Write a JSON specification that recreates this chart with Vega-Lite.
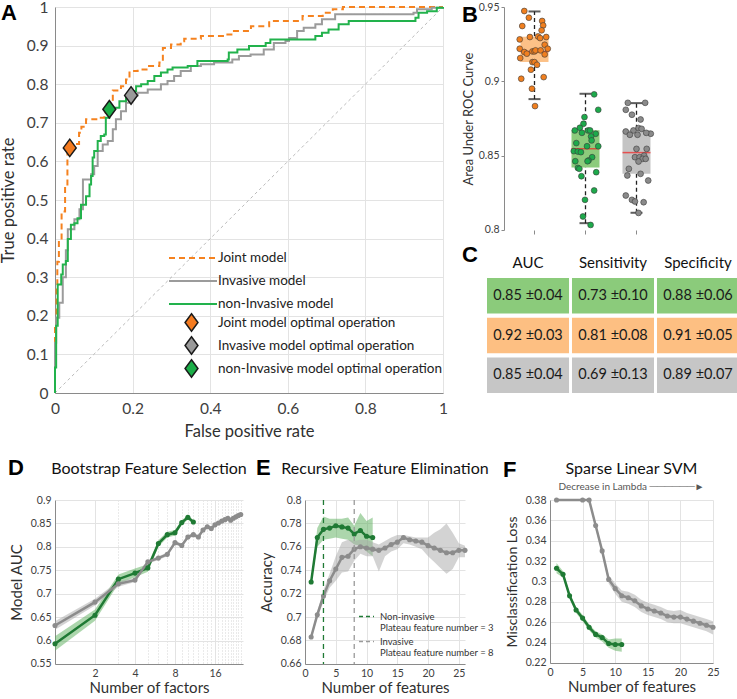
{
  "$schema": "https://vega.github.io/schema/vega-lite/v6.json",
  "padding": 0,
  "background": "white",
  "config": {
    "font": "Lato",
    "view": {"stroke": null},
    "axis": {"labelColor": "#404040", "titleColor": "#303030", "titleFontWeight": "normal", "domainColor": "#8a8a8a", "tickColor": "#8a8a8a", "gridColor": "#e3e3e3", "labelFont": "Lato", "titleFont": "Lato", "labelOverlap": false, "labelFlush": false},
    "legend": {"labelFont": "Lato", "labelColor": "#222", "padding": 0, "labelLimit": 0},
    "title": {"font": "Lato", "fontWeight": "normal", "color": "#111"}
  },
  "datasets": {
    "diag": [{"x": 0, "y": 0}, {"x": 1, "y": 1}],
    "roc": [
      {"m": "Joint model", "x": 0, "y": 0}, {"m": "Joint model", "x": 0, "y": 0.18}, {"m": "Joint model", "x": 0.004, "y": 0.28}, {"m": "Joint model", "x": 0.006, "y": 0.34}, {"m": "Joint model", "x": 0.01, "y": 0.4}, {"m": "Joint model", "x": 0.017, "y": 0.47}, {"m": "Joint model", "x": 0.026, "y": 0.535}, {"m": "Joint model", "x": 0.032, "y": 0.636}, {"m": "Joint model", "x": 0.05, "y": 0.645}, {"m": "Joint model", "x": 0.062, "y": 0.674}, {"m": "Joint model", "x": 0.068, "y": 0.69}, {"m": "Joint model", "x": 0.08, "y": 0.709}, {"m": "Joint model", "x": 0.114, "y": 0.713}, {"m": "Joint model", "x": 0.127, "y": 0.726}, {"m": "Joint model", "x": 0.14, "y": 0.756}, {"m": "Joint model", "x": 0.149, "y": 0.784}, {"m": "Joint model", "x": 0.17, "y": 0.795}, {"m": "Joint model", "x": 0.183, "y": 0.812}, {"m": "Joint model", "x": 0.192, "y": 0.834}, {"m": "Joint model", "x": 0.213, "y": 0.838}, {"m": "Joint model", "x": 0.239, "y": 0.847}, {"m": "Joint model", "x": 0.269, "y": 0.856}, {"m": "Joint model", "x": 0.278, "y": 0.894}, {"m": "Joint model", "x": 0.299, "y": 0.903}, {"m": "Joint model", "x": 0.324, "y": 0.911}, {"m": "Joint model", "x": 0.333, "y": 0.918}, {"m": "Joint model", "x": 0.376, "y": 0.925}, {"m": "Joint model", "x": 0.436, "y": 0.929}, {"m": "Joint model", "x": 0.458, "y": 0.938}, {"m": "Joint model", "x": 0.505, "y": 0.95}, {"m": "Joint model", "x": 0.552, "y": 0.964}, {"m": "Joint model", "x": 0.638, "y": 0.977}, {"m": "Joint model", "x": 0.69, "y": 0.985}, {"m": "Joint model", "x": 0.716, "y": 0.994}, {"m": "Joint model", "x": 0.742, "y": 1}, {"m": "Joint model", "x": 1, "y": 1},
      {"m": "Invasive model", "x": 0, "y": 0}, {"m": "Invasive model", "x": 0, "y": 0.13}, {"m": "Invasive model", "x": 0.003, "y": 0.195}, {"m": "Invasive model", "x": 0.011, "y": 0.234}, {"m": "Invasive model", "x": 0.02, "y": 0.3}, {"m": "Invasive model", "x": 0.028, "y": 0.37}, {"m": "Invasive model", "x": 0.033, "y": 0.424}, {"m": "Invasive model", "x": 0.05, "y": 0.45}, {"m": "Invasive model", "x": 0.063, "y": 0.476}, {"m": "Invasive model", "x": 0.072, "y": 0.553}, {"m": "Invasive model", "x": 0.093, "y": 0.567}, {"m": "Invasive model", "x": 0.101, "y": 0.588}, {"m": "Invasive model", "x": 0.11, "y": 0.627}, {"m": "Invasive model", "x": 0.123, "y": 0.644}, {"m": "Invasive model", "x": 0.136, "y": 0.653}, {"m": "Invasive model", "x": 0.149, "y": 0.683}, {"m": "Invasive model", "x": 0.157, "y": 0.709}, {"m": "Invasive model", "x": 0.17, "y": 0.73}, {"m": "Invasive model", "x": 0.183, "y": 0.752}, {"m": "Invasive model", "x": 0.192, "y": 0.765}, {"m": "Invasive model", "x": 0.196, "y": 0.771}, {"m": "Invasive model", "x": 0.213, "y": 0.778}, {"m": "Invasive model", "x": 0.239, "y": 0.786}, {"m": "Invasive model", "x": 0.273, "y": 0.8}, {"m": "Invasive model", "x": 0.29, "y": 0.808}, {"m": "Invasive model", "x": 0.307, "y": 0.821}, {"m": "Invasive model", "x": 0.324, "y": 0.834}, {"m": "Invasive model", "x": 0.35, "y": 0.847}, {"m": "Invasive model", "x": 0.376, "y": 0.852}, {"m": "Invasive model", "x": 0.41, "y": 0.856}, {"m": "Invasive model", "x": 0.457, "y": 0.864}, {"m": "Invasive model", "x": 0.474, "y": 0.873}, {"m": "Invasive model", "x": 0.504, "y": 0.877}, {"m": "Invasive model", "x": 0.538, "y": 0.89}, {"m": "Invasive model", "x": 0.564, "y": 0.907}, {"m": "Invasive model", "x": 0.594, "y": 0.912}, {"m": "Invasive model", "x": 0.603, "y": 0.92}, {"m": "Invasive model", "x": 0.624, "y": 0.938}, {"m": "Invasive model", "x": 0.641, "y": 0.946}, {"m": "Invasive model", "x": 0.671, "y": 0.955}, {"m": "Invasive model", "x": 0.688, "y": 0.968}, {"m": "Invasive model", "x": 0.722, "y": 0.981}, {"m": "Invasive model", "x": 0.924, "y": 0.985}, {"m": "Invasive model", "x": 0.933, "y": 0.994}, {"m": "Invasive model", "x": 0.971, "y": 0.998}, {"m": "Invasive model", "x": 1, "y": 1},
      {"m": "non-Invasive model", "x": 0, "y": 0}, {"m": "non-Invasive model", "x": 0, "y": 0.066}, {"m": "non-Invasive model", "x": 0.003, "y": 0.174}, {"m": "non-Invasive model", "x": 0.007, "y": 0.281}, {"m": "non-Invasive model", "x": 0.016, "y": 0.307}, {"m": "non-Invasive model", "x": 0.02, "y": 0.333}, {"m": "non-Invasive model", "x": 0.028, "y": 0.342}, {"m": "non-Invasive model", "x": 0.033, "y": 0.399}, {"m": "non-Invasive model", "x": 0.041, "y": 0.436}, {"m": "non-Invasive model", "x": 0.05, "y": 0.44}, {"m": "non-Invasive model", "x": 0.058, "y": 0.453}, {"m": "non-Invasive model", "x": 0.067, "y": 0.488}, {"m": "non-Invasive model", "x": 0.08, "y": 0.51}, {"m": "non-Invasive model", "x": 0.089, "y": 0.54}, {"m": "non-Invasive model", "x": 0.093, "y": 0.562}, {"m": "non-Invasive model", "x": 0.097, "y": 0.61}, {"m": "non-Invasive model", "x": 0.101, "y": 0.627}, {"m": "non-Invasive model", "x": 0.11, "y": 0.653}, {"m": "non-Invasive model", "x": 0.118, "y": 0.666}, {"m": "non-Invasive model", "x": 0.127, "y": 0.67}, {"m": "non-Invasive model", "x": 0.131, "y": 0.713}, {"m": "non-Invasive model", "x": 0.14, "y": 0.735}, {"m": "non-Invasive model", "x": 0.153, "y": 0.739}, {"m": "non-Invasive model", "x": 0.166, "y": 0.756}, {"m": "non-Invasive model", "x": 0.183, "y": 0.769}, {"m": "non-Invasive model", "x": 0.192, "y": 0.782}, {"m": "non-Invasive model", "x": 0.209, "y": 0.795}, {"m": "non-Invasive model", "x": 0.222, "y": 0.8}, {"m": "non-Invasive model", "x": 0.239, "y": 0.808}, {"m": "non-Invasive model", "x": 0.256, "y": 0.821}, {"m": "non-Invasive model", "x": 0.273, "y": 0.83}, {"m": "non-Invasive model", "x": 0.29, "y": 0.838}, {"m": "non-Invasive model", "x": 0.303, "y": 0.843}, {"m": "non-Invasive model", "x": 0.342, "y": 0.847}, {"m": "non-Invasive model", "x": 0.367, "y": 0.86}, {"m": "non-Invasive model", "x": 0.445, "y": 0.864}, {"m": "non-Invasive model", "x": 0.448, "y": 0.882}, {"m": "non-Invasive model", "x": 0.47, "y": 0.89}, {"m": "non-Invasive model", "x": 0.5, "y": 0.899}, {"m": "non-Invasive model", "x": 0.543, "y": 0.907}, {"m": "non-Invasive model", "x": 0.555, "y": 0.916}, {"m": "non-Invasive model", "x": 0.671, "y": 0.925}, {"m": "non-Invasive model", "x": 0.688, "y": 0.933}, {"m": "non-Invasive model", "x": 0.705, "y": 0.942}, {"m": "non-Invasive model", "x": 0.731, "y": 0.955}, {"m": "non-Invasive model", "x": 0.757, "y": 0.964}, {"m": "non-Invasive model", "x": 0.929, "y": 0.972}, {"m": "non-Invasive model", "x": 0.937, "y": 0.985}, {"m": "non-Invasive model", "x": 0.959, "y": 0.989}, {"m": "non-Invasive model", "x": 0.984, "y": 0.998}, {"m": "non-Invasive model", "x": 1, "y": 1}
    ],
    "ops": [
      {"op": "Joint model optimal operation", "x": 0.038, "y": 0.635},
      {"op": "Invasive model optimal operation", "x": 0.196, "y": 0.771},
      {"op": "non-Invasive model optimal operation", "x": 0.14, "y": 0.735}
    ],
    "box": [
      {"g": "Joint", "pos": 1, "lo": 0.888, "q1": 0.913, "med": 0.92, "q3": 0.93, "hi": 0.947},
      {"g": "Non-invasive", "pos": 2, "lo": 0.8045, "q1": 0.842, "med": 0.8546, "q3": 0.867, "hi": 0.8916},
      {"g": "Invasive", "pos": 3, "lo": 0.8115, "q1": 0.8377, "med": 0.852, "q3": 0.867, "hi": 0.8853}
    ],
    "aucpts": [
      {"g": "Joint", "x": 0.80, "v": 0.9473}, {"g": "Joint", "x": 0.89, "v": 0.9428}, {"g": "Joint", "x": 0.76, "v": 0.9372}, {"g": "Joint", "x": 1.15, "v": 0.9406}, {"g": "Joint", "x": 1.17, "v": 0.9376}, {"g": "Joint", "x": 1.14, "v": 0.9343}, {"g": "Joint", "x": 0.71, "v": 0.9282}, {"g": "Joint", "x": 0.91, "v": 0.9298}, {"g": "Joint", "x": 1.07, "v": 0.9302}, {"g": "Joint", "x": 1.11, "v": 0.9291}, {"g": "Joint", "x": 1.23, "v": 0.9298}, {"g": "Joint", "x": 1.20, "v": 0.9246}, {"g": "Joint", "x": 1.26, "v": 0.9219}, {"g": "Joint", "x": 0.71, "v": 0.9219}, {"g": "Joint", "x": 0.80, "v": 0.9197}, {"g": "Joint", "x": 0.85, "v": 0.9186}, {"g": "Joint", "x": 0.96, "v": 0.9201}, {"g": "Joint", "x": 1.00, "v": 0.9201}, {"g": "Joint", "x": 1.02, "v": 0.9208}, {"g": "Joint", "x": 1.12, "v": 0.9208}, {"g": "Joint", "x": 1.20, "v": 0.9181}, {"g": "Joint", "x": 0.72, "v": 0.9156}, {"g": "Joint", "x": 0.96, "v": 0.9129}, {"g": "Joint", "x": 1.00, "v": 0.9129}, {"g": "Joint", "x": 1.05, "v": 0.9111}, {"g": "Joint", "x": 0.93, "v": 0.9078}, {"g": "Joint", "x": 1.18, "v": 0.9028}, {"g": "Joint", "x": 0.74, "v": 0.9017}, {"g": "Joint", "x": 0.95, "v": 0.895}, {"g": "Joint", "x": 1.01, "v": 0.8833},
      {"g": "Non-invasive", "x": 2.17, "v": 0.8912}, {"g": "Non-invasive", "x": 2.25, "v": 0.8808}, {"g": "Non-invasive", "x": 1.98, "v": 0.8759}, {"g": "Non-invasive", "x": 1.96, "v": 0.8714}, {"g": "Non-invasive", "x": 1.79, "v": 0.8669}, {"g": "Non-invasive", "x": 1.89, "v": 0.8687}, {"g": "Non-invasive", "x": 2.05, "v": 0.8669}, {"g": "Non-invasive", "x": 2.09, "v": 0.8669}, {"g": "Non-invasive", "x": 1.93, "v": 0.8653}, {"g": "Non-invasive", "x": 2.20, "v": 0.8647}, {"g": "Non-invasive", "x": 2.11, "v": 0.8629}, {"g": "Non-invasive", "x": 2.12, "v": 0.8602}, {"g": "Non-invasive", "x": 1.82, "v": 0.8584}, {"g": "Non-invasive", "x": 2.03, "v": 0.8563}, {"g": "Non-invasive", "x": 2.25, "v": 0.8563}, {"g": "Non-invasive", "x": 1.77, "v": 0.853}, {"g": "Non-invasive", "x": 1.85, "v": 0.8527}, {"g": "Non-invasive", "x": 1.91, "v": 0.8523}, {"g": "Non-invasive", "x": 2.13, "v": 0.8489}, {"g": "Non-invasive", "x": 2.06, "v": 0.8467}, {"g": "Non-invasive", "x": 2.04, "v": 0.8462}, {"g": "Non-invasive", "x": 1.80, "v": 0.8462}, {"g": "Non-invasive", "x": 1.85, "v": 0.8417}, {"g": "Non-invasive", "x": 1.88, "v": 0.8411}, {"g": "Non-invasive", "x": 1.92, "v": 0.8361}, {"g": "Non-invasive", "x": 2.21, "v": 0.8388}, {"g": "Non-invasive", "x": 2.17, "v": 0.8265}, {"g": "Non-invasive", "x": 1.99, "v": 0.8202}, {"g": "Non-invasive", "x": 1.95, "v": 0.809}, {"g": "Non-invasive", "x": 2.10, "v": 0.8033},
      {"g": "Invasive", "x": 2.83, "v": 0.8855}, {"g": "Invasive", "x": 3.17, "v": 0.8855}, {"g": "Invasive", "x": 2.79, "v": 0.8808}, {"g": "Invasive", "x": 2.91, "v": 0.8775}, {"g": "Invasive", "x": 3.08, "v": 0.8743}, {"g": "Invasive", "x": 2.79, "v": 0.8662}, {"g": "Invasive", "x": 2.94, "v": 0.8669}, {"g": "Invasive", "x": 3.04, "v": 0.8685}, {"g": "Invasive", "x": 3.10, "v": 0.868}, {"g": "Invasive", "x": 3.28, "v": 0.8647}, {"g": "Invasive", "x": 2.87, "v": 0.864}, {"g": "Invasive", "x": 3.02, "v": 0.864}, {"g": "Invasive", "x": 3.19, "v": 0.8653}, {"g": "Invasive", "x": 3.00, "v": 0.8545}, {"g": "Invasive", "x": 3.20, "v": 0.8545}, {"g": "Invasive", "x": 2.97, "v": 0.8489}, {"g": "Invasive", "x": 3.06, "v": 0.8489}, {"g": "Invasive", "x": 3.15, "v": 0.85}, {"g": "Invasive", "x": 3.12, "v": 0.8478}, {"g": "Invasive", "x": 3.18, "v": 0.8478}, {"g": "Invasive", "x": 3.04, "v": 0.846}, {"g": "Invasive", "x": 2.85, "v": 0.8411}, {"g": "Invasive", "x": 2.82, "v": 0.8366}, {"g": "Invasive", "x": 3.23, "v": 0.8332}, {"g": "Invasive", "x": 3.08, "v": 0.8377}, {"g": "Invasive", "x": 2.79, "v": 0.8231}, {"g": "Invasive", "x": 2.91, "v": 0.8202}, {"g": "Invasive", "x": 2.97, "v": 0.8191}, {"g": "Invasive", "x": 3.14, "v": 0.8186}, {"g": "Invasive", "x": 3.04, "v": 0.8114}
    ],
    "tbl": [
      {"row": "Non-invasive", "col": "AUC", "txt": "0.85 ±0.04"}, {"row": "Non-invasive", "col": "Sensitivity", "txt": "0.73 ±0.10"}, {"row": "Non-invasive", "col": "Specificity", "txt": "0.88 ±0.06"},
      {"row": "Joint", "col": "AUC", "txt": "0.92 ±0.03"}, {"row": "Joint", "col": "Sensitivity", "txt": "0.81 ±0.08"}, {"row": "Joint", "col": "Specificity", "txt": "0.91 ±0.05"},
      {"row": "Invasive", "col": "AUC", "txt": "0.85 ±0.04"}, {"row": "Invasive", "col": "Sensitivity", "txt": "0.69 ±0.13"}, {"row": "Invasive", "col": "Specificity", "txt": "0.89 ±0.07"}
    ],
    "dl": [
      {"m": "non", "n": 1, "v": 0.593, "lo": 0.578, "hi": 0.609}, {"m": "non", "n": 2, "v": 0.654, "lo": 0.642, "hi": 0.666}, {"m": "non", "n": 3, "v": 0.731, "lo": 0.721, "hi": 0.741}, {"m": "non", "n": 4, "v": 0.744, "lo": 0.735, "hi": 0.754}, {"m": "non", "n": 5, "v": 0.755, "lo": 0.747, "hi": 0.763}, {"m": "non", "n": 6, "v": 0.807, "lo": 0.8, "hi": 0.814}, {"m": "non", "n": 7, "v": 0.826, "lo": 0.82, "hi": 0.832}, {"m": "non", "n": 8, "v": 0.83, "lo": 0.824, "hi": 0.836}, {"m": "non", "n": 9, "v": 0.852, "lo": 0.847, "hi": 0.857}, {"m": "non", "n": 10, "v": 0.863, "lo": 0.858, "hi": 0.868}, {"m": "non", "n": 11, "v": 0.853, "lo": 0.849, "hi": 0.857},
      {"m": "inv", "n": 1, "v": 0.632, "lo": 0.623, "hi": 0.641}, {"m": "inv", "n": 2, "v": 0.682, "lo": 0.675, "hi": 0.689}, {"m": "inv", "n": 3, "v": 0.721, "lo": 0.715, "hi": 0.727}, {"m": "inv", "n": 4, "v": 0.729, "lo": 0.725, "hi": 0.733}, {"m": "inv", "n": 5, "v": 0.768, "lo": 0.764, "hi": 0.772}, {"m": "inv", "n": 6, "v": 0.776, "lo": 0.772, "hi": 0.78}, {"m": "inv", "n": 7, "v": 0.784, "lo": 0.78, "hi": 0.788}, {"m": "inv", "n": 8, "v": 0.809, "lo": 0.805, "hi": 0.813}, {"m": "inv", "n": 9, "v": 0.803, "lo": 0.799, "hi": 0.807}, {"m": "inv", "n": 10, "v": 0.821, "lo": 0.817, "hi": 0.825}, {"m": "inv", "n": 11, "v": 0.826, "lo": 0.822, "hi": 0.83}, {"m": "inv", "n": 12, "v": 0.821, "lo": 0.817, "hi": 0.825}, {"m": "inv", "n": 13, "v": 0.836, "lo": 0.832, "hi": 0.84}, {"m": "inv", "n": 14, "v": 0.843, "lo": 0.839, "hi": 0.847}, {"m": "inv", "n": 15, "v": 0.839, "lo": 0.835, "hi": 0.843}, {"m": "inv", "n": 16, "v": 0.847, "lo": 0.843, "hi": 0.851}, {"m": "inv", "n": 17, "v": 0.851, "lo": 0.847, "hi": 0.855}, {"m": "inv", "n": 18, "v": 0.855, "lo": 0.851, "hi": 0.859}, {"m": "inv", "n": 19, "v": 0.858, "lo": 0.854, "hi": 0.862}, {"m": "inv", "n": 20, "v": 0.861, "lo": 0.857, "hi": 0.865}, {"m": "inv", "n": 21, "v": 0.857, "lo": 0.853, "hi": 0.861}, {"m": "inv", "n": 22, "v": 0.861, "lo": 0.857, "hi": 0.865}, {"m": "inv", "n": 23, "v": 0.864, "lo": 0.86, "hi": 0.868}, {"m": "inv", "n": 24, "v": 0.867, "lo": 0.863, "hi": 0.871}, {"m": "inv", "n": 25, "v": 0.869, "lo": 0.865, "hi": 0.873}
    ],
    "el": [
      {"m": "non", "n": 1, "v": 0.73, "lo": 0.729, "hi": 0.731}, {"m": "non", "n": 2, "v": 0.768, "lo": 0.76, "hi": 0.776}, {"m": "non", "n": 3, "v": 0.775, "lo": 0.766, "hi": 0.786}, {"m": "non", "n": 4, "v": 0.776, "lo": 0.767, "hi": 0.784}, {"m": "non", "n": 5, "v": 0.778, "lo": 0.768, "hi": 0.784}, {"m": "non", "n": 6, "v": 0.777, "lo": 0.767, "hi": 0.784}, {"m": "non", "n": 7, "v": 0.776, "lo": 0.766, "hi": 0.785}, {"m": "non", "n": 8, "v": 0.771, "lo": 0.762, "hi": 0.778}, {"m": "non", "n": 9, "v": 0.774, "lo": 0.761, "hi": 0.789}, {"m": "non", "n": 10, "v": 0.769, "lo": 0.756, "hi": 0.782}, {"m": "non", "n": 11, "v": 0.768, "lo": 0.752, "hi": 0.785},
      {"m": "inv", "n": 1, "v": 0.683, "lo": 0.681, "hi": 0.685}, {"m": "inv", "n": 2, "v": 0.702, "lo": 0.699, "hi": 0.705}, {"m": "inv", "n": 3, "v": 0.718, "lo": 0.713, "hi": 0.723}, {"m": "inv", "n": 4, "v": 0.731, "lo": 0.725, "hi": 0.737}, {"m": "inv", "n": 5, "v": 0.741, "lo": 0.731, "hi": 0.752}, {"m": "inv", "n": 6, "v": 0.751, "lo": 0.738, "hi": 0.764}, {"m": "inv", "n": 7, "v": 0.752, "lo": 0.739, "hi": 0.766}, {"m": "inv", "n": 8, "v": 0.758, "lo": 0.748, "hi": 0.765}, {"m": "inv", "n": 9, "v": 0.76, "lo": 0.754, "hi": 0.766}, {"m": "inv", "n": 10, "v": 0.759, "lo": 0.752, "hi": 0.766}, {"m": "inv", "n": 11, "v": 0.758, "lo": 0.752, "hi": 0.764}, {"m": "inv", "n": 12, "v": 0.757, "lo": 0.739, "hi": 0.762}, {"m": "inv", "n": 13, "v": 0.759, "lo": 0.752, "hi": 0.765}, {"m": "inv", "n": 14, "v": 0.762, "lo": 0.756, "hi": 0.768}, {"m": "inv", "n": 15, "v": 0.764, "lo": 0.758, "hi": 0.77}, {"m": "inv", "n": 16, "v": 0.768, "lo": 0.763, "hi": 0.77}, {"m": "inv", "n": 17, "v": 0.766, "lo": 0.762, "hi": 0.769}, {"m": "inv", "n": 18, "v": 0.765, "lo": 0.76, "hi": 0.768}, {"m": "inv", "n": 19, "v": 0.764, "lo": 0.758, "hi": 0.768}, {"m": "inv", "n": 20, "v": 0.761, "lo": 0.752, "hi": 0.768}, {"m": "inv", "n": 21, "v": 0.759, "lo": 0.747, "hi": 0.772}, {"m": "inv", "n": 22, "v": 0.757, "lo": 0.742, "hi": 0.775}, {"m": "inv", "n": 23, "v": 0.755, "lo": 0.737, "hi": 0.78}, {"m": "inv", "n": 24, "v": 0.755, "lo": 0.741, "hi": 0.772}, {"m": "inv", "n": 25, "v": 0.757, "lo": 0.751, "hi": 0.763}, {"m": "inv", "n": 26, "v": 0.757, "lo": 0.751, "hi": 0.761}
    ],
    "er": [
      {"lab": "Non-invasive|Plateau feature number = 3", "n": 3},
      {"lab": "Invasive|Plateau feature number = 8", "n": 8}
    ],
    "fl": [
      {"m": "non", "n": 1, "v": 0.313, "lo": 0.308, "hi": 0.318}, {"m": "non", "n": 2, "v": 0.307, "lo": 0.304, "hi": 0.31}, {"m": "non", "n": 3, "v": 0.286, "lo": 0.283, "hi": 0.289}, {"m": "non", "n": 4, "v": 0.272, "lo": 0.269, "hi": 0.275}, {"m": "non", "n": 5, "v": 0.264, "lo": 0.261, "hi": 0.267}, {"m": "non", "n": 6, "v": 0.255, "lo": 0.252, "hi": 0.258}, {"m": "non", "n": 7, "v": 0.248, "lo": 0.245, "hi": 0.251}, {"m": "non", "n": 8, "v": 0.245, "lo": 0.241, "hi": 0.248}, {"m": "non", "n": 9, "v": 0.239, "lo": 0.235, "hi": 0.243}, {"m": "non", "n": 10, "v": 0.238, "lo": 0.232, "hi": 0.244}, {"m": "non", "n": 11, "v": 0.238, "lo": 0.231, "hi": 0.244},
      {"m": "inv", "n": 1, "v": 0.38, "lo": 0.3795, "hi": 0.3805}, {"m": "inv", "n": 5, "v": 0.38, "lo": 0.3795, "hi": 0.3805}, {"m": "inv", "n": 6, "v": 0.38, "lo": 0.3795, "hi": 0.3805}, {"m": "inv", "n": 7, "v": 0.355, "lo": 0.352, "hi": 0.358}, {"m": "inv", "n": 8, "v": 0.33, "lo": 0.327, "hi": 0.333}, {"m": "inv", "n": 9, "v": 0.302, "lo": 0.298, "hi": 0.306}, {"m": "inv", "n": 10, "v": 0.293, "lo": 0.288, "hi": 0.298}, {"m": "inv", "n": 11, "v": 0.286, "lo": 0.28, "hi": 0.291}, {"m": "inv", "n": 12, "v": 0.284, "lo": 0.278, "hi": 0.29}, {"m": "inv", "n": 13, "v": 0.281, "lo": 0.275, "hi": 0.287}, {"m": "inv", "n": 14, "v": 0.276, "lo": 0.27, "hi": 0.282}, {"m": "inv", "n": 15, "v": 0.273, "lo": 0.267, "hi": 0.279}, {"m": "inv", "n": 16, "v": 0.271, "lo": 0.265, "hi": 0.277}, {"m": "inv", "n": 17, "v": 0.269, "lo": 0.263, "hi": 0.275}, {"m": "inv", "n": 18, "v": 0.266, "lo": 0.26, "hi": 0.272}, {"m": "inv", "n": 19, "v": 0.265, "lo": 0.259, "hi": 0.271}, {"m": "inv", "n": 20, "v": 0.265, "lo": 0.259, "hi": 0.272}, {"m": "inv", "n": 21, "v": 0.263, "lo": 0.257, "hi": 0.269}, {"m": "inv", "n": 22, "v": 0.261, "lo": 0.255, "hi": 0.267}, {"m": "inv", "n": 23, "v": 0.259, "lo": 0.253, "hi": 0.265}, {"m": "inv", "n": 24, "v": 0.257, "lo": 0.251, "hi": 0.263}, {"m": "inv", "n": 25, "v": 0.255, "lo": 0.248, "hi": 0.261}
    ]
  },
  "spacing": 17,
  "resolve": {"scale": {"color": "independent", "fill": "independent", "strokeDash": "independent"}},
  "vconcat": [
    {
      "spacing": 14,
      "resolve": {"scale": {"color": "independent", "fill": "independent", "strokeDash": "independent"}},
      "hconcat": [
        {
          "width": 388,
          "height": 386,
          "title": {"text": "A", "anchor": "start", "frame": "group", "font": "Liberation Sans", "fontSize": 22, "fontWeight": "bold", "color": "#000", "offset": 0, "dx": -54, "dy": 25},
          "layer": [
            {
              "data": {"name": "diag"},
              "mark": {"type": "line", "stroke": "#a8a8a8", "strokeWidth": 0.8, "strokeDash": [3, 3]},
              "encoding": {
                "x": {"field": "x", "type": "quantitative", "scale": {"domain": [0, 1], "nice": false},
                      "axis": {"values": [0, 0.2, 0.4, 0.6, 0.8, 1], "tickCount": 30, "format": "~g", "title": "False positive rate", "labelFontSize": 15.5, "titleFontSize": 16.5, "tickSize": 0, "labelPadding": 8, "titlePadding": 7, "grid": true}},
                "y": {"field": "y", "type": "quantitative", "scale": {"domain": [0, 1], "nice": false},
                      "axis": {"values": [0, 0.1, 0.2, 0.3, 0.4, 0.5, 0.6, 0.7, 0.8, 0.9, 1], "tickCount": 30, "format": "~g", "title": "True positive rate", "labelFontSize": 15.5, "titleFontSize": 16.5, "tickSize": 0, "labelPadding": 7, "titlePadding": 10, "grid": true}}
              }
            },
            {
              "data": {"name": "roc"},
              "mark": {"type": "line", "interpolate": "step-after", "strokeWidth": 2},
              "encoding": {
                "x": {"field": "x", "type": "quantitative"},
                "y": {"field": "y", "type": "quantitative"},
                "color": {"field": "m", "type": "nominal",
                          "scale": {"domain": ["Joint model", "Invasive model", "non-Invasive model"], "range": ["#F5821F", "#9B9B9B", "#22B24C"]},
                          "legend": {"orient": "none", "legendX": 129, "legendY": 242, "title": null, "symbolType": "M-3,0H3", "symbolSize": 256, "symbolStrokeWidth": 2, "labelFontSize": 13.5, "labelOffset": 16, "rowPadding": 7, "labelColor": "#222"}},
                "strokeDash": {"field": "m", "type": "nominal",
                          "scale": {"domain": ["Joint model", "Invasive model", "non-Invasive model"], "range": [[6, 4], [1, 0], [1, 0]]},
                          "legend": {"orient": "none", "legendX": 129, "legendY": 242, "title": null, "symbolType": "M-3,0H3", "symbolSize": 256, "symbolStrokeWidth": 2, "labelFontSize": 13.5, "labelOffset": 16, "rowPadding": 7, "labelColor": "#222"}}
              }
            },
            {
              "data": {"name": "ops"},
              "mark": {"type": "point", "filled": true, "shape": "M0,-1.15L0.85,0L0,1.15L-0.85,0Z", "size": 230, "stroke": "#1a1a1a", "strokeWidth": 1.5, "opacity": 1},
              "encoding": {
                "x": {"field": "x", "type": "quantitative"},
                "y": {"field": "y", "type": "quantitative"},
                "fill": {"field": "op", "type": "nominal",
                         "scale": {"domain": ["Joint model optimal operation", "Invasive model optimal operation", "non-Invasive model optimal operation"], "range": ["#F47B20", "#9A9A9A", "#1BAE48"]},
                         "legend": {"orient": "none", "legendX": 128, "legendY": 307, "title": null, "symbolType": "M0,-1.15L0.85,0L0,1.15L-0.85,0Z", "symbolSize": 230, "symbolStrokeColor": "#1a1a1a", "symbolStrokeWidth": 1.5, "symbolOpacity": 1, "labelFontSize": 13.5, "labelOffset": 18, "rowPadding": -2, "labelColor": "#222"}}
              }
            }
          ]
        },
        {
          "spacing": 8,
          "resolve": {"scale": {"color": "independent", "fill": "independent", "strokeDash": "independent"}},
          "vconcat": [
            {
              "width": 180,
              "height": 223,
              "title": {"text": "B", "anchor": "start", "frame": "group", "font": "Liberation Sans", "fontSize": 22, "fontWeight": "bold", "color": "#000", "offset": 0, "dx": -25, "dy": 25},
              "resolve": {"scale": {"color": "independent", "fill": "independent"}},
              "layer": [
                {
                  "data": {"name": "box"},
                  "mark": {"type": "rule", "strokeDash": [4, 3], "color": "#222", "strokeWidth": 1.3},
                  "encoding": {
                    "x": {"field": "pos", "type": "quantitative", "scale": {"domain": [0.1667, 3.5], "nice": false, "zero": false},
                          "axis": {"values": [1, 2, 3], "tickCount": 30, "labels": false, "title": null, "grid": false, "tickSize": 4, "domain": false}},
                    "y": {"field": "lo", "type": "quantitative", "scale": {"domain": [0.7999, 0.95], "nice": false, "zero": false},
                          "axis": {"values": [0.8, 0.85, 0.9, 0.95], "tickCount": 30, "format": "~g", "grid": false, "title": "Area Under ROC Curve", "offset": -17, "labelFontSize": 10.5, "titleFontSize": 13, "tickSize": 3, "labelPadding": 2, "titlePadding": 3}},
                    "y2": {"field": "hi"}
                  }
                },
                {
                  "mark": {"type": "rule", "color": "#8a8a8a", "strokeWidth": 1},
                  "encoding": {"x": {"datum": 0.5, "type": "quantitative"}, "x2": {"datum": 3.5}, "y": {"datum": 0.7999, "type": "quantitative"}}
                },
                {
                  "data": {"name": "box"},
                  "mark": {"type": "bar", "size": 28},
                  "encoding": {
                    "x": {"field": "pos", "type": "quantitative"},
                    "y": {"field": "q1", "type": "quantitative"},
                    "y2": {"field": "q3"},
                    "color": {"field": "g", "type": "nominal", "scale": {"domain": ["Joint", "Non-invasive", "Invasive"], "range": ["#FCC187", "#8CCB7C", "#C4C4C4"]}, "legend": null}
                  }
                },
                {
                  "data": {"name": "box"},
                  "mark": {"type": "tick", "orient": "horizontal", "size": 12, "thickness": 2, "color": "#1a1a1a"},
                  "encoding": {"x": {"field": "pos", "type": "quantitative"}, "y": {"field": "lo", "type": "quantitative"}}
                },
                {
                  "data": {"name": "box"},
                  "mark": {"type": "tick", "orient": "horizontal", "size": 12, "thickness": 2, "color": "#1a1a1a"},
                  "encoding": {"x": {"field": "pos", "type": "quantitative"}, "y": {"field": "hi", "type": "quantitative"}}
                },
                {
                  "data": {"name": "box"},
                  "mark": {"type": "tick", "orient": "horizontal", "size": 28, "thickness": 1.5, "color": "#F42020"},
                  "encoding": {"x": {"field": "pos", "type": "quantitative"}, "y": {"field": "med", "type": "quantitative"}}
                },
                {
                  "data": {"name": "aucpts"},
                  "mark": {"type": "point", "filled": true, "size": 34, "stroke": "#3a3a3a", "strokeWidth": 0.6, "opacity": 1},
                  "encoding": {
                    "x": {"field": "x", "type": "quantitative"},
                    "y": {"field": "v", "type": "quantitative"},
                    "fill": {"field": "g", "type": "nominal", "scale": {"domain": ["Joint", "Non-invasive", "Invasive"], "range": ["#F07F1F", "#1DAA4B", "#8A8A8A"]}, "legend": null}
                  }
                }
              ]
            },
            {
              "width": 252,
              "height": 115,
              "title": {"text": "C", "anchor": "start", "frame": "group", "font": "Liberation Sans", "fontSize": 22, "fontWeight": "bold", "color": "#000", "offset": 0, "dx": -25, "dy": 12},
              "data": {"name": "tbl"},
              "encoding": {
                "x": {"field": "col", "type": "nominal", "sort": ["AUC", "Sensitivity", "Specificity"], "scale": {"paddingInner": 0.035, "paddingOuter": 0},
                      "axis": {"orient": "top", "title": null, "domain": false, "ticks": false, "labelAngle": 0, "labelFontSize": 15, "labelColor": "#111", "labelPadding": 8}},
                "y": {"field": "row", "type": "nominal", "sort": ["Non-invasive", "Joint", "Invasive"], "scale": {"paddingInner": 0.11, "paddingOuter": 0}, "axis": null}
              },
              "layer": [
                {"mark": {"type": "rect"}, "encoding": {"color": {"field": "row", "type": "nominal", "scale": {"domain": ["Non-invasive", "Joint", "Invasive"], "range": ["#8BCB7B", "#FDBF82", "#C6C6C6"]}, "legend": null}}},
                {"mark": {"type": "text", "fontSize": 14.5, "color": "#1a1a1a"}, "encoding": {"text": {"field": "txt"}}}
              ]
            }
          ]
        }
      ]
    },
    {
      "spacing": 9,
      "resolve": {"scale": {"color": "independent", "fill": "independent", "strokeDash": "independent"}},
      "hconcat": [
        {
          "title": {"text": "D", "anchor": "start", "frame": "group", "font": "Liberation Sans", "fontSize": 22, "fontWeight": "bold", "color": "#000", "offset": 0, "dx": -47, "dy": 19},
          "hconcat": [
            {
              "width": 188,
              "height": 164,
              "title": {"text": "Bootstrap Feature Selection", "fontSize": 16, "offset": 18},
              "data": {"name": "dl"},
              "resolve": {"axis": {"x": "independent"}, "scale": {"color": "independent"}},
              "layer": [
                {
                  "mark": {"type": "area", "opacity": 0.5},
                  "encoding": {
                    "x": {"field": "n", "type": "quantitative", "scale": {"type": "log", "base": 2, "domain": [1, 26], "nice": false},
                          "axis": {"orient": "bottom", "values": [2, 4, 8, 16], "tickCount": 30, "format": "d", "title": "Number of factors", "labelFontSize": 10.5, "titleFontSize": 15, "tickSize": 0, "labelPadding": 4, "titlePadding": 2, "grid": true}},
                    "y": {"field": "lo", "type": "quantitative", "scale": {"domain": [0.5499, 0.9], "nice": false, "zero": false},
                          "axis": {"values": [0.55, 0.6, 0.65, 0.7, 0.75, 0.8, 0.85, 0.9], "tickCount": 30, "format": "~g", "title": "Model AUC", "labelFontSize": 10.5, "titleFontSize": 15, "tickSize": 0, "labelPadding": 4, "titlePadding": 6, "grid": true}},
                    "y2": {"field": "hi"},
                    "color": {"field": "m", "type": "nominal", "scale": {"domain": ["inv", "non"], "range": ["#a8a8a8", "#5aad5a"]}, "legend": null}
                  }
                },
                {
                  "mark": {"type": "line", "strokeWidth": 2.5, "point": {"filled": true, "size": 26}},
                  "encoding": {
                    "x": {"field": "n", "type": "quantitative",
                          "axis": {"orient": "bottom", "values": [3, 5, 6, 7, 9, 10, 11, 12, 13, 14, 15, 17, 18, 19, 20, 21, 22, 23, 24, 25], "tickCount": 50, "grid": true, "gridDash": [1, 2], "gridColor": "#d5d5d5", "labels": false, "ticks": false, "domain": false, "title": null}},
                    "y": {"field": "v", "type": "quantitative"},
                    "color": {"field": "m", "type": "nominal", "scale": {"domain": ["inv", "non"], "range": ["#8c8c8c", "#1f7a34"]}, "legend": null}
                  }
                }
              ]
            }
          ]
        },
        {
          "title": {"text": "E", "anchor": "start", "frame": "group", "font": "Liberation Sans", "fontSize": 22, "fontWeight": "bold", "color": "#000", "offset": 0, "dx": -49, "dy": 19},
          "hconcat": [
            {
              "width": 160,
              "height": 164,
              "title": {"text": "Recursive Feature Elimination", "fontSize": 16, "offset": 18},
              "resolve": {"scale": {"color": "independent"}},
              "layer": [
                {
                  "data": {"name": "el"},
                  "mark": {"type": "area", "opacity": 0.5},
                  "encoding": {
                    "x": {"field": "n", "type": "quantitative", "scale": {"domain": [0, 26], "nice": false},
                          "axis": {"values": [0, 5, 10, 15, 20, 25], "tickCount": 30, "title": "Number of features", "labelFontSize": 10.5, "titleFontSize": 15, "tickSize": 0, "labelPadding": 4, "titlePadding": 2, "grid": true}},
                    "y": {"field": "lo", "type": "quantitative", "scale": {"domain": [0.6599, 0.8], "nice": false, "zero": false},
                          "axis": {"values": [0.66, 0.68, 0.7, 0.72, 0.74, 0.76, 0.78, 0.8], "tickCount": 30, "format": "~g", "title": "Accuracy", "labelFontSize": 10.5, "titleFontSize": 15, "tickSize": 0, "labelPadding": 4, "titlePadding": 6, "grid": true}},
                    "y2": {"field": "hi"},
                    "color": {"field": "m", "type": "nominal", "scale": {"domain": ["inv", "non"], "range": ["#a8a8a8", "#5aad5a"]}, "legend": null}
                  }
                },
                {
                  "data": {"name": "el"},
                  "mark": {"type": "line", "strokeWidth": 2.5, "point": {"filled": true, "size": 26}},
                  "encoding": {
                    "x": {"field": "n", "type": "quantitative"},
                    "y": {"field": "v", "type": "quantitative"},
                    "color": {"field": "m", "type": "nominal", "scale": {"domain": ["inv", "non"], "range": ["#8c8c8c", "#1f7a34"]}, "legend": null}
                  }
                },
                {
                  "data": {"name": "er"},
                  "mark": {"type": "rule", "strokeDash": [5, 4], "strokeWidth": 1.3},
                  "encoding": {
                    "x": {"field": "n", "type": "quantitative"},
                    "color": {"field": "lab", "type": "nominal", "scale": {"domain": ["Non-invasive|Plateau feature number = 3", "Invasive|Plateau feature number = 8"], "range": ["#1f7a34", "#9a9a9a"]},
                              "legend": {"orient": "none", "legendX": 53, "legendY": 108, "title": null, "symbolType": "stroke", "symbolSize": 225, "symbolStrokeWidth": 1.5, "symbolDash": [4, 3], "labelFontSize": 9.5, "labelColor": "#333", "labelExpr": "split(datum.label, '|')", "rowPadding": -1, "labelOffset": 5}}
                  }
                }
              ]
            }
          ]
        },
        {
          "title": {"text": "F", "anchor": "start", "frame": "group", "font": "Liberation Sans", "fontSize": 22, "fontWeight": "bold", "color": "#000", "offset": 0, "dx": -47, "dy": 21},
          "hconcat": [
            {
              "width": 163,
              "height": 163,
              "title": {"text": "Sparse Linear SVM", "subtitle": "Decrease in Lambda ──────►", "fontSize": 16, "subtitleFontSize": 10, "subtitleColor": "#555", "subtitlePadding": 5, "offset": 3},
              "data": {"name": "fl"},
              "resolve": {"scale": {"color": "independent"}},
              "layer": [
                {
                  "mark": {"type": "area", "opacity": 0.5},
                  "encoding": {
                    "x": {"field": "n", "type": "quantitative", "scale": {"domain": [0, 25], "nice": false},
                          "axis": {"values": [0, 5, 10, 15, 20, 25], "tickCount": 30, "title": "Number of features", "labelFontSize": 10.5, "titleFontSize": 15, "tickSize": 0, "labelPadding": 4, "titlePadding": 2, "grid": true}},
                    "y": {"field": "lo", "type": "quantitative", "scale": {"domain": [0.2199, 0.38], "nice": false, "zero": false},
                          "axis": {"values": [0.22, 0.24, 0.26, 0.28, 0.3, 0.32, 0.34, 0.36, 0.38], "tickCount": 30, "format": "~g", "title": "Misclassification Loss", "labelFontSize": 10.5, "titleFontSize": 14, "tickSize": 0, "labelPadding": 4, "titlePadding": 6, "grid": true}},
                    "y2": {"field": "hi"},
                    "color": {"field": "m", "type": "nominal", "scale": {"domain": ["inv", "non"], "range": ["#a8a8a8", "#5aad5a"]}, "legend": null}
                  }
                },
                {
                  "mark": {"type": "line", "strokeWidth": 2.5, "point": {"filled": true, "size": 26}},
                  "encoding": {
                    "x": {"field": "n", "type": "quantitative"},
                    "y": {"field": "v", "type": "quantitative"},
                    "color": {"field": "m", "type": "nominal", "scale": {"domain": ["inv", "non"], "range": ["#8c8c8c", "#1f7a34"]}, "legend": null}
                  }
                }
              ]
            }
          ]
        }
      ]
    }
  ]
}
